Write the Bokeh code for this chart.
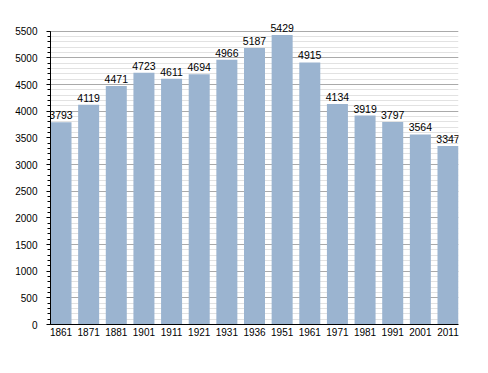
from bokeh.plotting import figure
from bokeh.models import Range1d, FixedTicker, ColumnDataSource, LabelSet
from bokeh.core.properties import value
from bokeh.embed import file_html
from bokeh.resources import INLINE

years = ["1861", "1871", "1881", "1901", "1911", "1921", "1931", "1936",
         "1951", "1961", "1971", "1981", "1991", "2001", "2011"]
population = [3793, 4119, 4471, 4723, 4611, 4694, 4966, 5187,
              5429, 4915, 4134, 3919, 3797, 3564, 3347]
y_ticks = list(range(0, 5501, 500))

idx = list(range(len(years)))
src = ColumnDataSource(dict(x=idx, top=population, lab=[str(v) for v in population]))

p = figure(width=472, height=357, output_backend="svg", toolbar_location=None,
           x_range=Range1d(-0.38, len(years) - 1 + 0.38), y_range=Range1d(0, 5720),
           min_border_left=50, min_border_right=14, min_border_top=19, min_border_bottom=33)
p.outline_line_color = None
p.background_fill_color = "white"

p.vbar(x="x", top="top", width=0.76, source=src, fill_color="#9bb4d0", line_color=None)

labels = LabelSet(x="x", y="top", text="lab", source=src, text_align="center",
                  text_baseline="bottom", y_offset=3, text_font=value("Liberation Sans"),
                  text_font_size="10.5px", text_color="black")
p.add_layout(labels)

p.xaxis.ticker = FixedTicker(ticks=idx)
p.xaxis.major_label_overrides = {i: y for i, y in enumerate(years)}
p.xaxis.major_tick_line_color = None
p.xaxis.minor_tick_line_color = None
p.xaxis.major_tick_out = 0
p.xaxis.major_tick_in = 0
p.xaxis.axis_line_color = "black"
p.xaxis.major_label_standoff = 3
p.xaxis.major_label_text_font = "Liberation Sans"
p.xaxis.major_label_text_font_size = "10px"
p.xaxis.major_label_text_color = "black"

p.yaxis.ticker = FixedTicker(ticks=y_ticks, minor_ticks=list(range(0, 5501, 100)))
p.yaxis.bounds = (0, 5500)
p.yaxis.axis_line_color = "black"
p.yaxis.major_tick_in = 0
p.yaxis.major_tick_out = 4
p.yaxis.minor_tick_in = 0
p.yaxis.minor_tick_out = 3
p.yaxis.major_label_standoff = 9
p.yaxis.major_label_text_font = "Liberation Sans"
p.yaxis.major_label_text_font_size = "10px"
p.yaxis.major_label_text_color = "black"

p.xgrid.grid_line_color = None
p.ygrid.bounds = (0, 5500)
p.ygrid.grid_line_color = "#aaaaaa"
p.ygrid.minor_grid_line_color = "#e2e2e2"
p.ygrid.level = "underlay"

open("out.html", "w").write(file_html(p, INLINE))
